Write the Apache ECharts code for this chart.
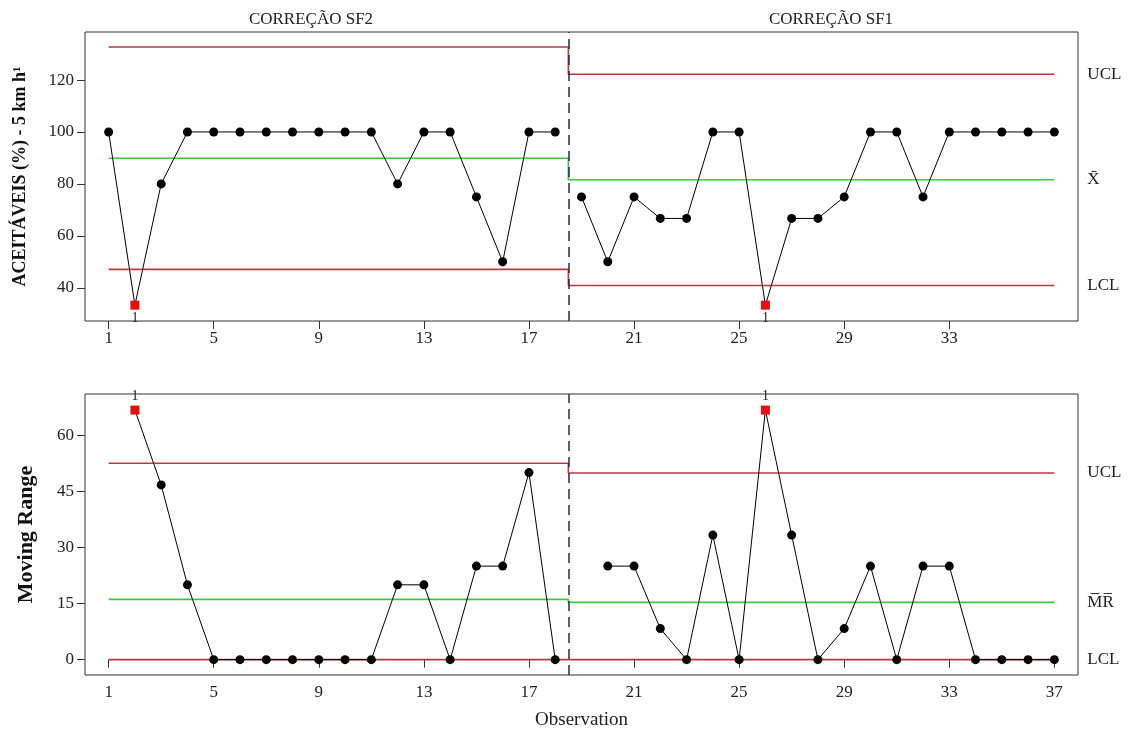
<!DOCTYPE html>
<html>
<head>
<meta charset="utf-8">
<script src="https://cdn.jsdelivr.net/npm/echarts@6/dist/echarts.min.js"></script>
<style>
  html, body { margin: 0; padding: 0; background: #fff; }
  #chart { width: 1129px; height: 733px; }
</style>
</head>
<body>
<div id="chart"></div>
<script>
// observation numbers per stage
const obsSF2 = [1, 2, 3, 4, 5, 6, 7, 8, 9, 10, 11, 12, 13, 14, 15, 16, 17, 18];
const obsSF1 = [19, 20, 21, 22, 23, 24, 25, 26, 27, 28, 29, 30, 31, 32, 33, 34, 35, 36, 37];

// individual values (%)
const indSF2 = [100, 33.3, 80, 100, 100, 100, 100, 100, 100, 100, 100, 80, 100, 100, 75, 50, 100, 100];
const indSF1 = [75, 50, 75, 66.7, 66.7, 100, 100, 33.3, 66.7, 66.7, 75, 100, 100, 75, 100, 100, 100, 100, 100];

// moving ranges (first point of each stage has none)
const mrSF2 = [null, 66.7, 46.7, 20, 0, 0, 0, 0, 0, 0, 0, 20, 20, 0, 25, 25, 50, 0];
const mrSF1 = [null, 25, 25, 8.3, 0, 33.3, 0, 66.7, 33.3, 0, 8.3, 25, 0, 25, 25, 0, 0, 0, 0];

// control limits per stage [SF2, SF1]
const stageNames = ['CORREÇÃO SF2', 'CORREÇÃO SF1'];
const stageFrom = [1, 18.5];
const stageTo = [18.5, 37];
const iUCL = [132.7, 122.2];
const iCL = [89.9, 81.6];
const iLCL = [47.1, 40.9];
const mrUCL = [52.5, 49.9];
const mrCL = [16.1, 15.3];
const mrLCL = [0, 0];

// points flagged by test 1
const flagsI = [2, 26];
const flagsMR = [2, 26];

const xTicksTop = [1, 5, 9, 13, 17, 21, 25, 29, 33];
const xTicksBottom = [1, 5, 9, 13, 17, 21, 25, 29, 33, 37];
const yTicksTop = [40, 60, 80, 100, 120];
const yTicksBottom = [0, 15, 30, 45, 60];

const FONT = '"Liberation Serif", "DejaVu Serif", serif';
const RED = '#b9383f';
const GREEN = '#3cc83c';

const allObs = obsSF2.concat(obsSF1);

const pointData = (vals, flags, labelPos) => {
    const out = [];
    for (let i = 0; i < vals.length; i++) {
        if (vals[i] === null) continue;
        const item = { value: [allObs[i], vals[i]] };
        if (flags.indexOf(allObs[i]) >= 0) {
            item.symbol = 'rect';
            item.symbolSize = 9;
            item.itemStyle = { color: '#e3100f' };
            item.label = {
                show: true, formatter: '1', position: labelPos, distance: 2,
                fontFamily: FONT, fontSize: 14, color: '#222'
            };
        }
        out.push(item);
    }
    return out;
};

// step line through both stages, name written after the end
const limitLine = (vals, color, name, gi) => ({
    type: 'line', xAxisIndex: gi, yAxisIndex: gi, silent: true,
    data: [
        [stageFrom[0], vals[0]], [stageTo[0], vals[0]],
        [stageFrom[1], vals[1]], [stageTo[1], vals[1]]
    ],
    symbol: 'none', z: 2,
    lineStyle: { color: color, width: 1.6 },
    endLabel: {
        show: true, formatter: name, distance: 33,
        fontFamily: FONT, fontSize: 17, color: '#222'
    }
});

const lineSeries = (vals, flags, gi, labelPos) => {
    // split into stages so the line breaks at stage change
    const s2 = pointData(vals.slice(0, obsSF2.length).concat(new Array(obsSF1.length).fill(null)), flags, labelPos);
    const s1 = pointData(new Array(obsSF2.length).fill(null).concat(vals.slice(obsSF2.length)), flags, labelPos);
    const base = {
        type: 'line', xAxisIndex: gi, yAxisIndex: gi, z: 5,
        symbol: 'circle', symbolSize: 9,
        itemStyle: { color: '#000' },
        lineStyle: { color: '#000', width: 1 }
    };
    return [Object.assign({}, base, { data: s2 }), Object.assign({}, base, { data: s1 })];
};

const xAxisOpt = (gi, ticks, withName) => ({
    type: 'value', gridIndex: gi, min: 0.1, max: 37.9,
    axisLine: { show: false },
    splitLine: { show: false },
    axisTick: { show: true, length: 8, customValues: ticks, lineStyle: { color: '#333' } },
    axisLabel: { customValues: ticks, margin: 9, fontFamily: FONT, fontSize: 17, color: '#222' },
    name: withName ? 'Observation' : '',
    nameLocation: 'middle', nameGap: 36,
    nameTextStyle: { fontFamily: FONT, fontSize: 19, color: '#222' }
});

const yAxisOpt = (gi, min, max, ticks, name, gap, size) => ({
    type: 'value', gridIndex: gi, min: min, max: max,
    axisLine: { show: false },
    splitLine: { show: false },
    axisTick: { show: true, length: 8, customValues: ticks, lineStyle: { color: '#333' } },
    axisLabel: { customValues: ticks, margin: 11, fontFamily: FONT, fontSize: 17, color: '#222' },
    name: name, nameLocation: 'middle', nameGap: gap, nameRotate: 90,
    nameTextStyle: { fontFamily: FONT, fontSize: size, fontWeight: 'bold', color: '#111' }
});

const chart = echarts.init(document.getElementById('chart'), null, { renderer: 'canvas' });

const series = [].concat(
    [limitLine(iUCL, RED, 'UCL', 0), limitLine(iCL, GREEN, 'X\u0304', 0), limitLine(iLCL, RED, 'LCL', 0)],
    lineSeries(indSF2.concat(indSF1), flagsI, 0, 'bottom'),
    [limitLine(mrUCL, RED, 'UCL', 1), limitLine(mrCL, GREEN, 'M\u0305R\u0305', 1), limitLine(mrLCL, RED, 'LCL', 1)],
    lineSeries(mrSF2.concat(mrSF1), flagsMR, 1, 'top')
);

// stage divider in both panels
[0, 1].forEach((gi) => {
    series.push({
        type: 'line', xAxisIndex: gi, yAxisIndex: gi, data: [], silent: true,
        markLine: {
            symbol: 'none', silent: true, label: { show: false },
            lineStyle: { color: '#26265e', width: 1.5, type: [10, 6] },
            data: [{ xAxis: stageFrom[1] }]
        }
    });
});

chart.setOption({
    animation: false,
    backgroundColor: '#fff',
    title: [
        { text: stageNames[0], left: 306, top: 6, textAlign: 'center',
          textStyle: { fontFamily: FONT, fontSize: 17, fontWeight: 'normal', color: '#222' } },
        { text: stageNames[1], left: 826, top: 6, textAlign: 'center',
          textStyle: { fontFamily: FONT, fontSize: 17, fontWeight: 'normal', color: '#222' } }
    ],
    grid: [
        { left: 85, right: 51, top: 32, height: 289, show: true, borderColor: '#333', borderWidth: 1, backgroundColor: '#fff' },
        { left: 85, right: 51, top: 394, height: 281, show: true, borderColor: '#333', borderWidth: 1, backgroundColor: '#fff' }
    ],
    xAxis: [xAxisOpt(0, xTicksTop, false), xAxisOpt(1, xTicksBottom, true)],
    yAxis: [
        yAxisOpt(0, 27.2, 138.5, yTicksTop, 'ACEITÁVEIS (%) - 5 km h¹', 56, 18),
        yAxisOpt(1, -4.1, 71, yTicksBottom, 'Moving Range', 48, 22)
    ],
    series: series
});
</script>
</body>
</html>
